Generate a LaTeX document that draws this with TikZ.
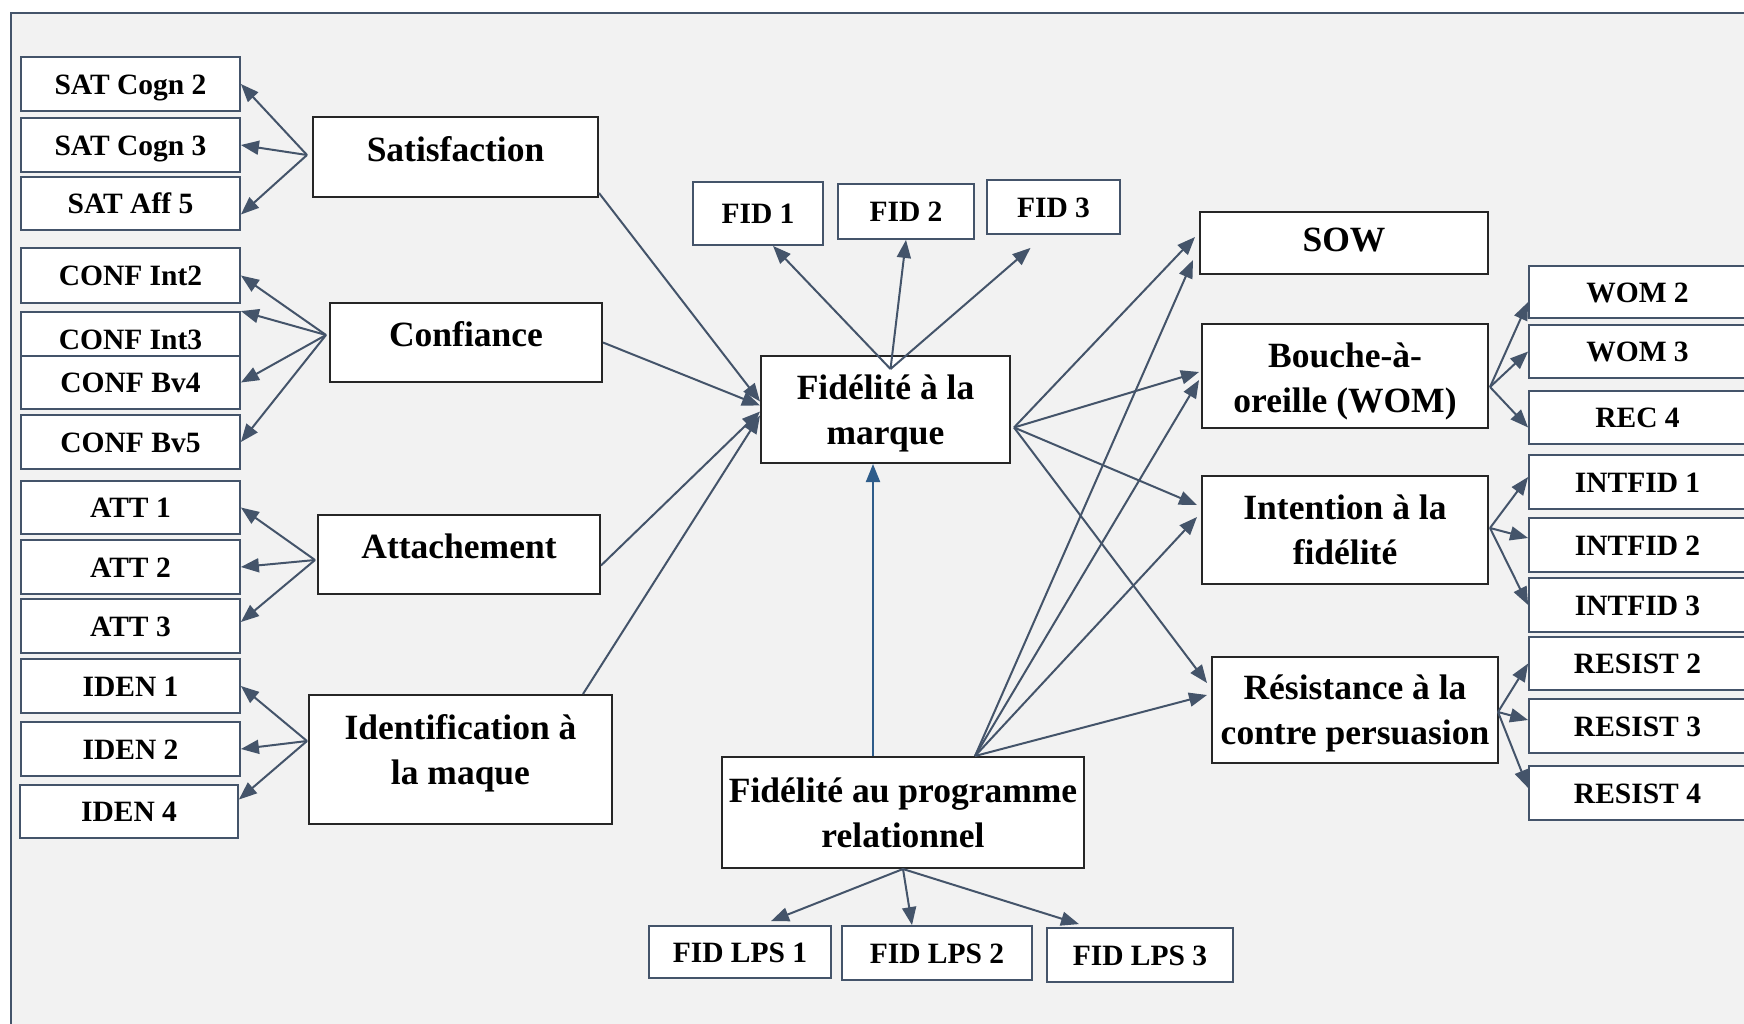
\documentclass[tikz,border=0pt]{standalone}
\usepackage{fontspec}
\setmainfont{Liberation Serif}
\usetikzlibrary{calc,arrows.meta}
\definecolor{slate}{HTML}{44546A}
\definecolor{bgc}{HTML}{F2F2F2}
\definecolor{blu}{HTML}{2E5C8A}
\newcommand\mkbox[7]{\node[#1, minimum width={(#4-#2)*0.5pt}, minimum height={(#5-#3)*0.5pt}] (#6) at ({(#2+#4)/2},{(#3+#5)/2}) {#7};}
% box with separately shifted text
\newcommand\mkcbox[8]{\node[#1, minimum width={(#4-#2)*0.5pt}, minimum height={(#5-#3)*0.5pt}] (#6) at ({(#2+#4)/2},{(#3+#5)/2}) {};
  \node[constxt] (#6-t) at ($(#6.center)+(0,#7)$) {#8};}
\tikzset{
  item/.style={draw=slate, line width=0.9pt, fill=white, inner sep=0pt,
    font=\fontsize{14.75}{18}\selectfont\bfseries, text height=10pt, text depth=0pt},
  cons/.style={draw=black!85, line width=1pt, fill=white, inner sep=0pt, align=center,
    font=\fontsize{17.75}{22.5}\selectfont\bfseries},
  constxt/.style={inner sep=0pt, align=center, font=\fontsize{17.75}{22.5}\selectfont\bfseries},
  onel/.style={text height=12pt, text depth=8pt},
  arr/.style={draw=slate, line width=1pt, -{Triangle[length=9pt,width=7pt]}},
  arrb/.style={draw=blu, line width=1pt, -{Triangle[length=9pt,width=7pt]}},
}
\begin{document}
\begin{tikzpicture}[x=0.5pt,y=-0.5pt]
\useasboundingbox (0,0) rectangle (1744,1023);
\clip (0,0) rectangle (1744,1023);
\fill[white] (0,0) rectangle (1744,1023);
\draw[slate, line width=1pt, fill=bgc] (11,13) rectangle (1800,1100);

% left items
\mkbox{item}{21}{57}{240}{111}{sc2}{SAT Cogn 2}
\mkbox{item}{21}{118}{240}{172}{sc3}{SAT Cogn 3}
\mkbox{item}{21}{177}{240}{230}{sa5}{SAT Aff 5}
\mkbox{item}{21}{248}{240}{303}{ci2}{CONF Int2}
\mkbox{item}{21}{312}{240}{366}{ci3}{CONF Int3}
\mkbox{item}{21}{356}{240}{409}{cb4}{CONF Bv4}
\mkbox{item}{21}{415}{240}{469}{cb5}{CONF Bv5}
\mkbox{item}{21}{481}{240}{534}{at1}{ATT 1}
\mkbox{item}{21}{540}{240}{594}{at2}{ATT 2}
\mkbox{item}{21}{599}{240}{653}{at3}{ATT 3}
\mkbox{item}{21}{659}{240}{713}{id1}{IDEN 1}
\mkbox{item}{21}{722}{240}{776}{id2}{IDEN 2}
\mkbox{item}{20}{785}{238}{838}{id4}{IDEN 4}

% constructs
\mkbox{cons,onel}{313}{117}{598}{197}{sat}{Satisfaction}
\mkbox{cons,onel}{330}{303}{602}{382}{conf}{Confiance}
\mkbox{cons,onel}{318}{515}{600}{594}{att}{Attachement}
\mkcbox{cons}{309}{695}{612}{824}{iden}{-6}{Identification à\\la maque}
\mkcbox{cons}{761}{356}{1010}{463}{fid}{4}{Fidélité à la\\marque}
\mkbox{cons}{722}{757}{1084}{868}{prog}{Fidélité au programme\\relationnel}
\mkbox{cons,text height=12pt,text depth=4pt}{1200}{212}{1488}{274}{sow}{SOW}
\mkcbox{cons}{1202}{324}{1488}{428}{bou}{5}{Bouche-à-\\oreille (WOM)}
\mkbox{cons}{1202}{476}{1488}{584}{int}{Intention à la\\fidélité}
\mkcbox{cons}{1212}{657}{1498}{763}{res}{3}{Résistance à la\\contre persuasion}

% top and bottom items
\mkbox{item}{693}{182}{823}{245}{fid1}{FID 1}
\mkbox{item}{838}{184}{974}{239}{fid2}{FID 2}
\mkbox{item}{987}{180}{1120}{234}{fid3}{FID 3}
\mkbox{item}{649}{926}{831}{978}{lps1}{FID LPS 1}
\mkbox{item}{842}{926}{1032}{980}{lps2}{FID LPS 2}
\mkbox{item}{1047}{928}{1233}{982}{lps3}{FID LPS 3}

% right items
\mkbox{item}{1529}{266}{1746}{318}{w2}{WOM 2}
\mkbox{item}{1529}{325}{1746}{378}{w3}{WOM 3}
\mkbox{item}{1529}{391}{1746}{444}{r4}{REC 4}
\mkbox{item}{1529}{455}{1746}{509}{if1}{INTFID 1}
\mkbox{item}{1529}{518}{1746}{572}{if2}{INTFID 2}
\mkbox{item}{1529}{578}{1746}{632}{if3}{INTFID 3}
\mkbox{item}{1529}{637}{1746}{690}{rs2}{RESIST 2}
\mkbox{item}{1529}{699}{1746}{753}{rs3}{RESIST 3}
\mkbox{item}{1529}{766}{1746}{820}{rs4}{RESIST 4}

% fan origins
\coordinate (satf) at ($(sat.west)+(-5,-2)$);
\coordinate (conff) at ($(conf.west)+(-3,-7.5)$);
\coordinate (attf) at ($(att.west)+(-2,5.5)$);
\coordinate (idenf) at ($(iden.west)+(-1,-18.5)$);
\coordinate (fidt) at ($(fid.north)+(5,14)$);
\coordinate (fidr) at ($(fid.east)+(3,18)$);
\coordinate (progt) at ($(prog.north)+(72,0)$);
\coordinate (bouf) at ($(bou.east)+(1,11)$);
\coordinate (intf) at ($(int.east)+(1,-2)$);
\coordinate (resf) at ($(res.east)+(-1,2)$);

% left fans
\draw[arr] (satf) -- (sc2.east);
\draw[arr] (satf) -- (sc3.east);
\draw[arr] (satf) -- ($(sa5.east)+(0,11)$);
\draw[arr] (conff) -- (ci2.east);
\draw[arr] (conff) -- (ci3.north east);
\draw[arr] (conff) -- (cb4.east);
\draw[arr] (conff) -- (cb5.east);
\draw[arr] (attf) -- (at1.east);
\draw[arr] (attf) -- (at2.east);
\draw[arr] (attf) -- ($(at3.east)+(0,-4)$);
\draw[arr] (idenf) -- (id1.east);
\draw[arr] (idenf) -- (id2.east);
\draw[arr] (idenf) -- ($(id4.east)+(0,-12)$);

% into fidelite
\draw[arr] ($(sat.south east)+(0,-5)$) -- ($(fid.west)+(0,-8)$);
\draw[arr] (conf.east) -- ($(fid.west)+(0,-4)$);
\draw[arr] ($(att.east)+(0,11)$) -- ($(fid.west)+(0,2)$);
\draw[arr] ($(iden.north east)+(-30,0)$) -- ($(fid.west)+(0,6)$);

% fid items
\draw[arr] (fidt) -- ($(fid1.south)+(15,0)$);
\draw[arr] (fidt) -- (fid2.south);
\draw[arr] (fidt) -- ($(fid3.south)+(-23,13)$);

% fid outcomes
\draw[arr] (fidr) -- ($(sow.west)+(-4,-6)$);
\draw[arr] (fidr) -- ($(bou.west)+(-2,-4)$);
\draw[arr] (fidr) -- ($(int.west)+(-4,-25)$);
\draw[arr] (fidr) -- ($(res.west)+(-4,-27)$);

% programme outcomes
\draw[arr] (progt) -- ($(sow.west)+(-6,17)$);
\draw[arr] (progt) -- ($(bou.west)+(-2,4)$);
\draw[arr] (progt) -- ($(int.west)+(-4,-13)$);
\draw[arr] (progt) -- ($(res.west)+(-4,-15)$);
\draw[arrb] ($(prog.north)+(-30,0)$) -- ($(fid.south)+(-12.5,0)$);

% programme items
\draw[arr] (prog.south) -- ($(lps1.north)+(31,-4)$);
\draw[arr] (prog.south) -- ($(lps2.north)+(-25,0)$);
\draw[arr] (prog.south) -- ($(lps3.north)+(-61,-3)$);

% right fans
\draw[arr] (bouf) -- ($(w2.west)+(0,10)$);
\draw[arr] (bouf) -- (w3.west);
\draw[arr] (bouf) -- ($(r4.west)+(0,10)$);
\draw[arr] (intf) -- ($(if1.west)+(0,-5)$);
\draw[arr] (intf) -- ($(if2.west)+(0,-7)$);
\draw[arr] (intf) -- (if3.west);
\draw[arr] (resf) -- (rs2.west);
\draw[arr] (resf) -- ($(rs3.west)+(0,-6)$);
\draw[arr] (resf) -- ($(rs4.west)+(0,-5)$);
\end{tikzpicture}
\end{document}
